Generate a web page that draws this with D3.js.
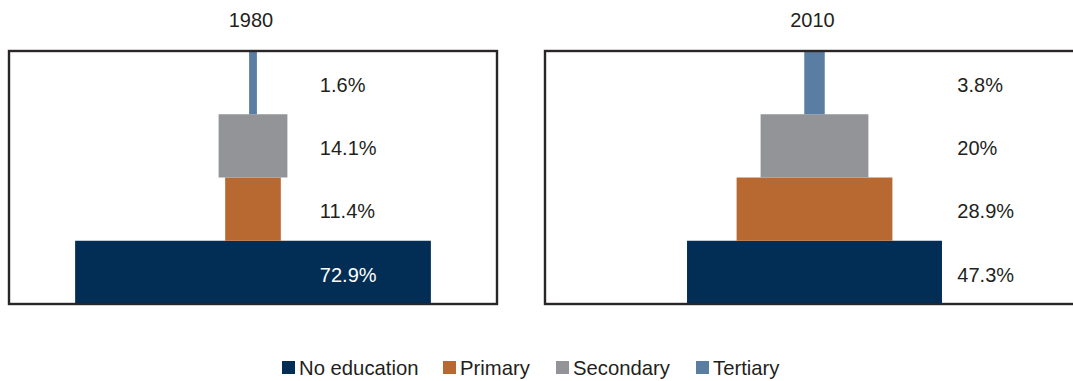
<!DOCTYPE html>
<html>
<head>
<meta charset="utf-8">
<script src="https://cdn.jsdelivr.net/npm/d3@7"></script>
<style>
  html, body { margin: 0; padding: 0; background: #fff; }
  svg { display: block; font-family: "Liberation Sans", Arial, Helvetica, sans-serif; }
</style>
</head>
<body>
<svg id="chart" width="1073" height="381"></svg>
<script>
// Education levels, drawn bottom-up as a pyramid
const levels = ["No education", "Primary", "Secondary", "Tertiary"];
const colors = ["#022e55", "#b86831", "#939498", "#5a7ea1"];

const years = ["1980", "2010"];
const shares1980 = [72.9, 11.4, 14.1, 1.6];
const shares2010 = [47.3, 28.9, 20, 3.8];
const labels1980 = ["72.9%", "11.4%", "14.1%", "1.6%"];
const labels2010 = ["47.3%", "28.9%", "20%", "3.8%"];

const svg = d3.select("#chart");

// Panel frames and where the value labels sit (in axis units)
const panels = [
  { year: years[0], values: shares1980, labels: labels1980, x0: 9,   x1: 497,  labelAt: 13.7 },
  { year: years[1], values: shares2010, labels: labels2010, x0: 545, x1: 1084, labelAt: 26.5 }
];
const frameTop = 51, frameBottom = 304;

panels.forEach(p => {
  const g = svg.append("g");

  // symmetric axis so each bar is centred in its frame
  const x = d3.scaleLinear().domain([-50, 50]).range([p.x0, p.x1]);
  const y = d3.scaleBand().domain(levels.slice().reverse()).range([frameTop, frameBottom]).padding(0);

  const rows = levels.map((lvl, i) => ({ lvl, v: p.values[i], label: p.labels[i], color: colors[i] }));

  g.selectAll("rect.bar")
    .data(rows)
    .join("rect")
    .attr("class", "bar")
    .attr("x", d => x(-d.v / 2))
    .attr("width", d => x(d.v / 2) - x(-d.v / 2))
    .attr("y", d => y(d.lvl))
    .attr("height", y.bandwidth())
    .attr("fill", d => d.color);

  g.selectAll("text.val")
    .data(rows)
    .join("text")
    .attr("class", "val")
    .attr("x", x(p.labelAt))
    .attr("y", d => y(d.lvl) + y.bandwidth() / 2)
    .attr("dy", "0.46em")
    .attr("font-size", 20)
    .attr("fill", d => (p.labelAt < d.v / 2 ? "#ffffff" : "#231f20"))
    .text(d => d.label);

  // frame
  g.append("rect")
    .attr("x", p.x0)
    .attr("y", frameTop)
    .attr("width", p.x1 - p.x0)
    .attr("height", frameBottom - frameTop)
    .attr("fill", "none")
    .attr("stroke", "#2a2627")
    .attr("stroke-width", 2.4);

  // year title
  svg.append("text")
    .attr("x", x(0) - 2)
    .attr("y", 27)
    .attr("text-anchor", "middle")
    .attr("font-size", 20)
    .attr("fill", "#231f20")
    .text(p.year);
});

// Legend
const legendItems = levels.map((lvl, i) => ({ lvl, color: colors[i] }));
const legendX = [282, 443, 556, 696];
const legend = svg.append("g");
const item = legend.selectAll("g")
  .data(legendItems)
  .join("g")
  .attr("transform", (d, i) => `translate(${legendX[i]},361)`);
item.append("rect")
  .attr("width", 13)
  .attr("height", 13)
  .attr("fill", d => d.color);
item.append("text")
  .attr("x", 17)
  .attr("y", 13.5)
  .attr("font-size", 20.3)
  .attr("fill", "#231f20")
  .text(d => d.lvl);
</script>
</body>
</html>
